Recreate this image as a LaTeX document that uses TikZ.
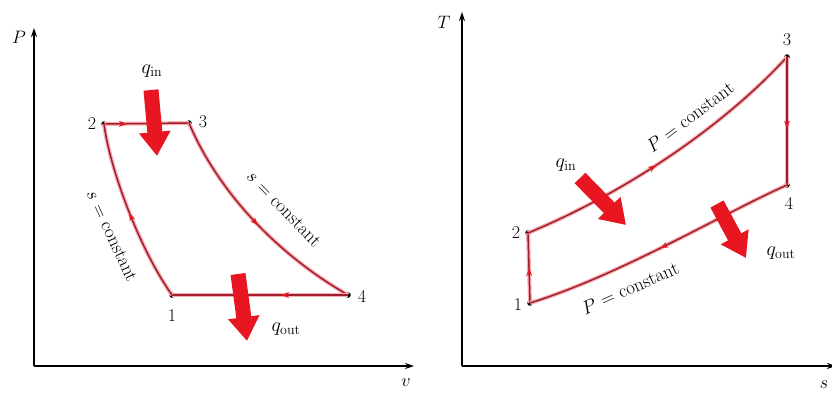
\RequirePackage{fix-cm}
\documentclass[tikz,border=0pt]{standalone}
\usetikzlibrary{arrows.meta,decorations.markings}
\definecolor{cycred}{RGB}{160,30,42}
\definecolor{glow}{RGB}{248,175,180}
\definecolor{heatred}{RGB}{232,22,32}
\begin{document}
\begin{tikzpicture}[x=1pt,y=-1pt,
  axis/.style={line width=1.3pt,-{Stealth[length=9pt,width=6pt]}},
  dot/.style={circle,fill=black,inner sep=0pt,minimum size=5.5pt},
  cyc/.style={draw=cycred,line width=1.5pt,preaction={draw=glow,line width=4pt}},
  midarrow/.style={postaction={decorate,decoration={markings,mark=at position #1 with {\arrow{Stealth[length=8pt,width=6pt,heatred]}}}}},
  heat/.style={draw=heatred,line width=15pt,-{Triangle[length=24pt,width=30pt]}},
  lbl/.style={font=\fontsize{18}{20}\selectfont,inner sep=1pt},
  qlbl/.style={font=\fontsize{20}{22}\selectfont,inner sep=1pt},
  crv/.style={font=\fontsize{19}{21}\selectfont,inner sep=0pt}]
\useasboundingbox[fill=white] (0,0) rectangle (832,394);
% ---------- left: P-v ----------
\coordinate (Po) at (34,366);
\coordinate (Ptop) at (34,28);
\coordinate (Pright) at (414,366);
\draw[axis] (Po) -- (Ptop);
\draw[axis] (Po) -- (Pright);
\node[lbl] (Plab) at (19,37) {$P$};
\node[lbl] (vlab) at (406,383) {$v$};
\node[dot] (L1) at (172,295) {};
\node[dot] (L2) at (104,124) {};
\node[dot] (L3) at (189,123) {};
\node[dot] (L4) at (348,295) {};
\draw[cyc,midarrow=0.27] (L2.center) -- (L3.center);
\draw[cyc,midarrow=0.52] (L3.center) .. controls (215,185) and (270,250) .. (L4.center);
\draw[cyc,midarrow=0.38] (L4.center) -- (L1.center);
\draw[cyc,midarrow=0.5] (L1.center) .. controls (140,250) and (110,170) .. (L2.center);
\node[lbl] (t1) at (172,316) {1};
\node[lbl] (t2) at (92,124) {2};
\node[lbl] (t3) at (203,122) {3};
\node[lbl] (t4) at (362,296) {4};
\node[crv,rotate=-65] (sc1) at (112,236) {$s$ = constant};
\node[crv,rotate=-46] (sc2) at (284,209) {$s$ = constant};
\coordinate (qi1) at (151,90);
\coordinate (qi2) at (157,156);
\draw[heat] (qi1) -- (qi2);
\coordinate (qo1) at (238,274);
\coordinate (qo2) at (247,341);
\draw[heat] (qo1) -- (qo2);
\node[qlbl] (qinL) at (152,71) {$q_{\mathrm{in}}$};
\node[qlbl] (qoutL) at (286,329) {$q_{\mathrm{out}}$};
% ---------- right: T-s ----------
\coordinate (To) at (462,366);
\coordinate (Ttop) at (462,12);
\coordinate (Tright) at (836,366);
\draw[axis] (To) -- (Ttop);
\draw[axis] (To) -- (Tright);
\node[lbl] (Tlab) at (444,22) {$T$};
\node[lbl] (slab) at (824,385) {$s$};
\node[dot] (R1) at (530,303) {};
\node[dot] (R2) at (528,233) {};
\node[dot] (R3) at (787,57) {};
\node[dot] (R4) at (787,185) {};
\draw[cyc,midarrow=0.5] (R1.center) -- (R2.center);
\draw[cyc,midarrow=0.46] (R2.center) .. controls (620,195) and (720,130) .. (R3.center);
\draw[cyc,midarrow=0.56] (R3.center) -- (R4.center);
\draw[cyc,midarrow=0.5] (R4.center) .. controls (720,215) and (620,275) .. (R1.center);
\node[lbl] (u1) at (518,305) {1};
\node[lbl] (u2) at (516,233) {2};
\node[lbl] (u3) at (787,40) {3};
\node[lbl] (u4) at (789,203) {4};
\node[crv,rotate=37] (pc1) at (690,117) {$P$ = constant};
\node[crv,rotate=24] (pc2) at (630,288) {$P$ = constant};
\coordinate (ri1) at (580,178);
\coordinate (ri2) at (626,225);
\draw[heat] (ri1) -- (ri2);
\coordinate (ro1) at (717,204);
\coordinate (ro2) at (746,258);
\draw[heat] (ro1) -- (ro2);
\node[qlbl] (qinR) at (566,165) {$q_{\mathrm{in}}$};
\node[qlbl] (qoutR) at (781,253) {$q_{\mathrm{out}}$};
\end{tikzpicture}
\end{document}
